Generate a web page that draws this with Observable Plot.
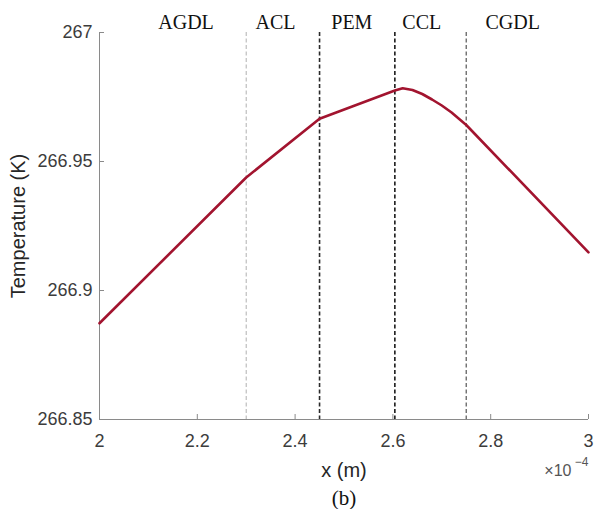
<!DOCTYPE html>
<html>
<head>
<meta charset="utf-8">
<script src="https://cdn.jsdelivr.net/npm/d3@7"></script>
<script src="https://cdn.jsdelivr.net/npm/@observablehq/plot@0.6"></script>
<style>
  html, body { margin: 0; padding: 0; background: #fff; }
</style>
</head>
<body>
<div id="chart"></div>
<script>
// x in units of 1e-4 m
const xPos = [2.0, 2.3, 2.45, 2.604, 2.62, 2.64, 2.66, 2.68, 2.70, 2.72, 2.75, 3.0];
const temperature = [266.8873, 266.9438, 266.9666, 266.97752, 266.97841, 266.97771, 266.97616, 266.97403, 266.97170, 266.96899, 266.96415, 266.9148];

const layerNames = ["AGDL", "ACL", "PEM", "CCL", "CGDL"];
const layerLabelX = [2.177, 2.36, 2.516, 2.659, 2.845];
const boundaries = [2.3, 2.45, 2.604, 2.75];

const xTicks = [2, 2.2, 2.4, 2.6, 2.8, 3];
const yTicks = [266.85, 266.9, 266.95, 267];

const data = xPos.map((x, i) => ({x, t: temperature[i]}));
const W = 594, H = 509, mL = 99, mR = 6, mT = 32, mB = 90;
const frameW = W - mL - mR, frameH = H - mT - mB;
const axisGray = "#8a8a8a";
const textGray = "#3c3c3c";
const sans = "'Liberation Sans', Arial, sans-serif";
const serif = "'Liberation Serif', 'Times New Roman', serif";

const chart = Plot.plot({
  width: W, height: H,
  marginLeft: mL, marginRight: mR, marginTop: mT, marginBottom: mB,
  style: {fontFamily: sans, fontSize: "18px", background: "#fff"},
  x: {domain: [2, 3], axis: null},
  y: {domain: [266.85, 267], axis: null},
  marks: [
    // layer boundaries
    Plot.ruleX([boundaries[0]], {stroke: "#b0b0b0", strokeWidth: 1, strokeDasharray: "4,2.5"}),
    Plot.ruleX([boundaries[1]], {stroke: "#2a2a2a", strokeWidth: 1.6, strokeDasharray: "4,2.5"}),
    Plot.ruleX([boundaries[2]], {stroke: "#1a1a1a", strokeWidth: 1.6, strokeDasharray: "4,2.5"}),
    Plot.ruleX([boundaries[3]], {stroke: "#6e6e6e", strokeWidth: 1.4, strokeDasharray: "4,2.5"}),
    // axes lines
    Plot.ruleX([2], {stroke: axisGray, strokeWidth: 1}),
    Plot.ruleY([266.85], {stroke: axisGray, strokeWidth: 1}),
    // inward ticks
    Plot.tickX(xTicks, {x: d => d, stroke: axisGray, insetTop: frameH - 5}),
    Plot.tickY(yTicks, {y: d => d, stroke: axisGray, insetRight: frameW - 5}),
    // tick labels
    Plot.text(xTicks, {x: d => d, frameAnchor: "bottom", lineAnchor: "middle", dy: 22, text: d => String(+d.toFixed(1)), fill: textGray, fontSize: 18}),
    Plot.text(yTicks, {y: d => d, frameAnchor: "left", lineAnchor: "middle", dx: -7, textAnchor: "end", text: d => String(+d.toFixed(2)), fill: textGray, fontSize: 18}),
    // curve
    Plot.line(data, {x: "x", y: "t", stroke: "#A2142F", strokeWidth: 2.6}),
    // layer labels
    Plot.text(layerNames, {x: (d, i) => layerLabelX[i], frameAnchor: "top", lineAnchor: "middle", dy: -10, text: d => d, fontFamily: serif, fontSize: 20, fill: "#111"}),
    // axis labels
    Plot.text(["Temperature (K)"], {frameAnchor: "left", textAnchor: "middle", lineAnchor: "middle", dx: -81, rotate: -90, text: d => d, fill: "#262626", fontSize: 20}),
    Plot.text(["x (m)"], {frameAnchor: "bottom", lineAnchor: "middle", dy: 51, text: d => d, fill: "#262626", fontSize: 20}),
    Plot.text(["\u00d710"], {frameAnchor: "bottom-right", lineAnchor: "middle", dx: -17, dy: 51, textAnchor: "end", text: d => d, fill: "#555", fontSize: 16}),
    Plot.text(["\u22124"], {frameAnchor: "bottom-right", lineAnchor: "middle", dx: 0, dy: 43, textAnchor: "end", text: d => d, fill: "#555", fontSize: 12}),
    Plot.text(["(b)"], {frameAnchor: "bottom", lineAnchor: "middle", dy: 79, text: d => d, fontFamily: serif, fontSize: 21, fill: "#111"})
  ]
});
document.getElementById("chart").appendChild(chart);
</script>
</body>
</html>
